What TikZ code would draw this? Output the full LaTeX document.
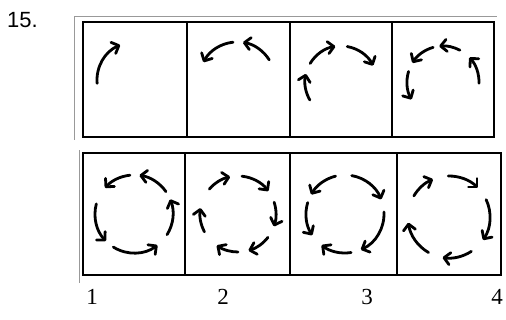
\documentclass[tikz,border=0pt]{standalone}
\usepackage{fontspec}
\setmainfont{Liberation Serif}
\newfontfamily\numfont{Liberation Sans}
\usetikzlibrary{arrows.meta}
\tikzset{
  frame/.style={draw=black,line width=2pt},
  scanline/.style={draw=black!40,line width=0.8pt},
  arr/.style={line width=2.8pt,line cap=round,-{Straight Barb[length=6pt,width=12pt,line cap=round,line join=round]}},
  lab/.style={inner sep=0pt}
}
% #1,#2 centre (px), #3 radius, #4 start angle, #5 end angle (screen angles, y up)
\newcommand{\carc}[5]{\draw[arr,shift={(#1,#2)}] ({-(#4)}:#3) arc[start angle={-(#4)}, end angle={-(#5)}, radius=#3];}
\newcommand{\labfont}{\fontsize{23}{23}\selectfont}
\begin{document}
\begin{tikzpicture}[x=1pt,y=-1pt]
\useasboundingbox (0,0) rectangle (506,320);
% scan edges
\draw[scanline] (74,140) -- (74,16) -- (497,16);
\draw[scanline] (79,283) -- (79,150);
% top frames
\draw[frame] (83,22) rectangle (494,137);
\draw[frame] (187,22) -- (187,137);
\draw[frame] (290,22) -- (290,137);
\draw[frame] (392,22) -- (392,137);
% bottom frames
\draw[frame,line width=2.4pt] (83,153) rectangle (501,275);
\draw[frame,line width=2.4pt] (185,153) -- (185,275);
\draw[frame,line width=2.4pt] (290,153) -- (290,275);
\draw[frame,line width=2.4pt] (397,153) -- (397,275);
% top row arrows
\carc{135}{80}{38}{185}{113}
\carc{237}{80}{38}{32}{81}
\carc{237}{80}{38}{96}{152}
\carc{341}{82}{36}{210}{167}
\carc{341}{82}{36}{149}{99}
\carc{341}{82}{36}{80}{27}
\carc{443}{82}{36}{-2}{43}
\carc{443}{82}{36}{62}{96}
\carc{443}{82}{36}{106}{148}
\carc{443}{82}{36}{163}{209}
% bottom row arrows
\carc{134}{214}{39}{96}{138}
\carc{134}{214}{39}{35}{82}
\carc{134}{214}{39}{-32}{22}
\carc{134}{214}{39}{238}{307}
\carc{134}{214}{39}{165}{224}
\carc{238}{214}{38}{139}{102}
\carc{238}{214}{38}{84}{37}
\carc{238}{214}{38}{18}{-19}
\carc{238}{214}{38}{-38}{-74}
\carc{238}{214}{38}{-90}{-124}
\carc{238}{214}{38}{208}{171}
\carc{345}{214}{39}{104}{150}
\carc{345}{214}{39}{163}{213}
\carc{345}{214}{39}{279}{233}
\carc{345}{214}{39}{3}{-66}
\carc{345}{214}{39}{80}{22}
\carc{449}{217}{41}{149}{113}
\carc{449}{217}{41}{91}{45}
\carc{449}{217}{41}{25}{-34}
\carc{449}{217}{41}{-57}{-99}
\carc{449}{217}{41}{240}{188}
% labels
\node[inner sep=0pt,anchor=west] (qnum) at (7,20) {\numfont\fontsize{22}{22}\selectfont 15.};
\node[lab] (l1) at (92,297) {\labfont 1};
\node[lab] (l2) at (223,297) {\labfont 2};
\node[lab] (l3) at (367,297) {\labfont 3};
\node[lab] (l4) at (497,297) {\labfont 4};
\end{tikzpicture}
\end{document}
